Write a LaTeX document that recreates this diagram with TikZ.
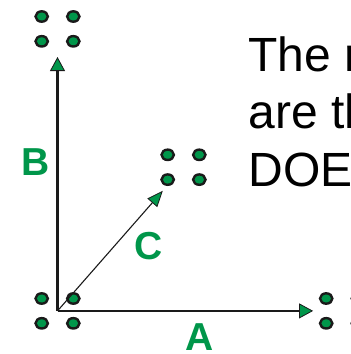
\documentclass[tikz,border=0pt]{standalone}
\usepackage{fontspec}
\setmainfont{Liberation Sans}
\usetikzlibrary{arrows.meta}
\definecolor{dotgreen}{HTML}{00964A}
\definecolor{inkblack}{HTML}{1A1A1A}

\begin{document}
\begin{tikzpicture}[x=1pt, y=-1pt,
  group/.style={minimum width=46pt, minimum height=40pt, inner sep=0pt},
  dotstyle/.style={fill=dotgreen, draw=inkblack, line width=2.4pt},
  axisline/.style={inkblack, line width=2.3pt,
    -{Triangle[length=14pt, width=15pt, fill=dotgreen, line width=0.8pt]}},
  diagline/.style={inkblack, line width=1.1pt,
    -{Triangle[length=16pt, width=13pt, fill=dotgreen, line width=0.8pt]}},
  axislabel/.style={text=dotgreen, inner sep=0pt, font=\fontsize{39}{45}\selectfont\bfseries},
  notetext/.style={anchor=base west, inner sep=0pt, font=\fontsize{48}{57.5}\selectfont}]

  \clip (0,0) rectangle (351,354);

  % Dot groups (2x2)
  \node[group] (tl)  at (57.5, 28.9)  {};
  \node[group] (bl)  at (57.5, 310.9) {};
  \node[group] (mid) at (183.5, 167.2) {};
  \node[group] (rt)  at (342, 310.9)  {};

  \foreach \g in {tl, bl, mid, rt} {
    \foreach \dx/\dy in {-15.8/-12.4, 15.8/-12.4, -15.8/12.4, 15.8/12.4} {
      \filldraw[dotstyle] ([shift={(\dx,\dy)}]\g.center) ellipse (6.2 and 5.2);
    }
  }

  % Axes and diagonal
  \draw[axisline, shorten >=7.9pt] (bl.center) -- (tl);
  \draw[axisline, shorten >=5.7pt] (bl.center) -- (rt);
  \draw[diagline, shorten >=4.5pt] (bl.center) -- (mid);

  % Labels
  \node[axislabel] (lblB) at (36, 162.5) {B};
  \node[axislabel] (lblC) at (149, 246)  {C};
  \node[axislabel] (lblA) at (200, 336.7) {A};

  % Text at right
  \node[notetext] (note1) at (248.3, 71.7)  {The r};
  \node[notetext] (note2) at (248.3, 128.3) {are th};
  \node[notetext] (note3) at (248.3, 186.7) {DOE};

\end{tikzpicture}
\end{document}
